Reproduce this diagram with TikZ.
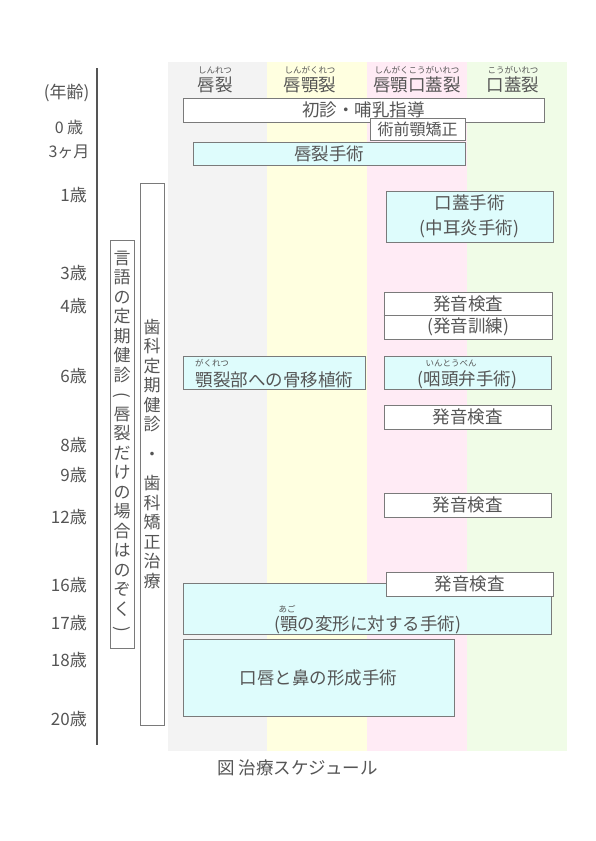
\documentclass[tikz,border=0pt]{standalone}
\usepackage{fontspec}
\usepackage{graphicx}
\setmainfont{Noto Sans CJK JP}
\definecolor{txt}{HTML}{555555}
\definecolor{bord}{HTML}{7A7A7A}
\definecolor{axisc}{HTML}{555555}
\definecolor{bgray}{HTML}{F3F3F3}
\definecolor{byel}{HTML}{FFFFE0}
\definecolor{bpink}{HTML}{FFEBF5}
\definecolor{bgreen}{HTML}{F0FCE7}
\definecolor{cyanf}{HTML}{DEFCFC}
\newcommand\vlp{\rotatebox[origin=c]{-90}{(}}
\newcommand\vrp{\rotatebox[origin=c]{-90}{)}}
\begin{document}
\begin{tikzpicture}[x=1pt,y=-1pt,
  every node/.style={text=txt, inner sep=0pt},
  bx/.style={draw=bord, line width=0.9pt, fill=white},
  cbx/.style={bx, fill=cyanf},
  big/.style={font=\fontsize{17.5}{20}\selectfont},
  mid/.style={font=\fontsize{16}{18}\selectfont},
  ruby/.style={font=\fontsize{8.5}{9}\selectfont},
  age/.style={font=\fontsize{17}{18}\selectfont, anchor=east},
  vtxt/.style={align=center, font=\fontsize{17}{19.5}\selectfont}]

\useasboundingbox (0,0) rectangle (595,841);
\fill[white] (0,0) rectangle (595,841);

% bands
\fill[bgray]  (168,62) rectangle (267,751);
\fill[byel]   (267,62) rectangle (367,751);
\fill[bpink]  (367,62) rectangle (467,751);
\fill[bgreen] (467,62) rectangle (567,751);

% axis
\coordinate (axtop) at (97,68);
\coordinate (axbot) at (97,745);
\draw[axisc, line width=2pt] (axtop) -- (axbot);

% headers
\node[big] (h1) at (215,85) {唇裂};
\node[ruby] (r1) at (215,70) {しんれつ};
\node[big] (h2) at (310,85) {唇顎裂};
\node[ruby] (r2) at (310,70) {しんがくれつ};
\node[big] (h3) at (417,85) {唇顎口蓋裂};
\node[ruby] (r3) at (417,70) {しんがくこうがいれつ};
\node[big] (h4) at (513,85) {口蓋裂};
\node[ruby] (r4) at (513,70) {こうがいれつ};

% age labels
\node[font=\fontsize{17}{18}\selectfont] (a0) at (66.5,93) {(年齢)};
\node[mid] (a1) at (69,127) {0 歳};
\node[mid] (a2) at (69,152) {3ヶ月};
\node[age] (a3) at (87,195) {1歳};
\node[age] (a4) at (87,273) {3歳};
\node[age] (a5) at (87,306) {4歳};
\node[age] (a6) at (87,376) {6歳};
\node[age] (a7) at (87,445) {8歳};
\node[age] (a8) at (87,475) {9歳};
\node[age] (a9) at (87,517) {12歳};
\node[age] (a10) at (87,585) {16歳};
\node[age] (a11) at (87,623) {17歳};
\node[age] (a12) at (87,660) {18歳};
\node[age] (a13) at (87,719) {20歳};

% vertical boxes
\node[bx, minimum width=24pt, minimum height=408pt] (gengo) at (122,444) {};
\node[vtxt] (gengoT) at (122,443) {言\\語\\の\\定\\期\\健\\診\\\vlp\\唇\\裂\\だ\\け\\の\\場\\合\\は\\の\\ぞ\\く\\\vrp};
\node[bx, minimum width=24pt, minimum height=542pt] (shika) at (152,454) {};
\node[vtxt] (shikaT) at (152,454) {歯\\科\\定\\期\\健\\診\\[10pt]・\\[10pt]歯\\科\\矯\\正\\治\\療};

% top boxes
\node[bx, big, minimum width=361pt, minimum height=24pt] (shoshin) at (363.5,110) {初診・哺乳指導};
\node[bx, mid, minimum width=95pt, minimum height=22pt] (jutsuzen) at (417.5,129) {術前顎矯正};
\node[cbx, big, minimum width=272pt, minimum height=23pt] (shinop) at (329,153.5) {唇裂手術};

% palate surgery
\node[cbx, big, align=center, font=\fontsize{17.5}{25}\selectfont, minimum width=167pt, minimum height=51pt] (kogai) at (469.5,216.5) {口蓋手術\\(中耳炎手術)};

% speech test / training
\node[bx, big, align=center, font=\fontsize{17.5}{22}\selectfont, minimum width=168pt, minimum height=47pt] (hatsuA) at (468,315.5) {発音検査\\(発音訓練)};
\draw[bord, line width=0.9pt] (hatsuA.west) -- (hatsuA.east);

% bone graft
\node[cbx, minimum width=182pt, minimum height=33pt] (graft) at (274,372.5) {};
\node[big] (graftT) at (274.5,379.5) {顎裂部への骨移植術};
\node[ruby] (graftR) at (212,363.5) {がくれつ};

% pharyngeal flap
\node[cbx, minimum width=167pt, minimum height=33pt] (flap) at (467.5,372.5) {};
\node[big] (flapT) at (467.5,379.5) {(咽頭弁手術)};
\node[ruby] (flapR) at (451,363.5) {いんとうべん};

% speech tests
\node[bx, big, minimum width=167pt, minimum height=24pt] (hatsuB) at (467.5,417) {発音検査};
\node[bx, big, minimum width=167pt, minimum height=24pt] (hatsuC) at (467.5,505) {発音検査};

% jaw deformity
\node[cbx, minimum width=368pt, minimum height=51pt] (jaw) at (367,608.5) {};
\node[big] (jawT) at (367.5,625) {(顎の変形に対する手術)};
\node[ruby] (jawR) at (287,609) {あご};
\node[bx, big, minimum width=167pt, minimum height=24pt] (hatsuD) at (469.5,584) {発音検査};

% lip & nose
\node[cbx, big, minimum width=271pt, minimum height=77pt] (lipnose) at (318.5,677.5) {口唇と鼻の形成手術};

% caption
\node[big] (cap) at (297.5,768) {図 治療スケジュール};
\end{tikzpicture}
\end{document}
